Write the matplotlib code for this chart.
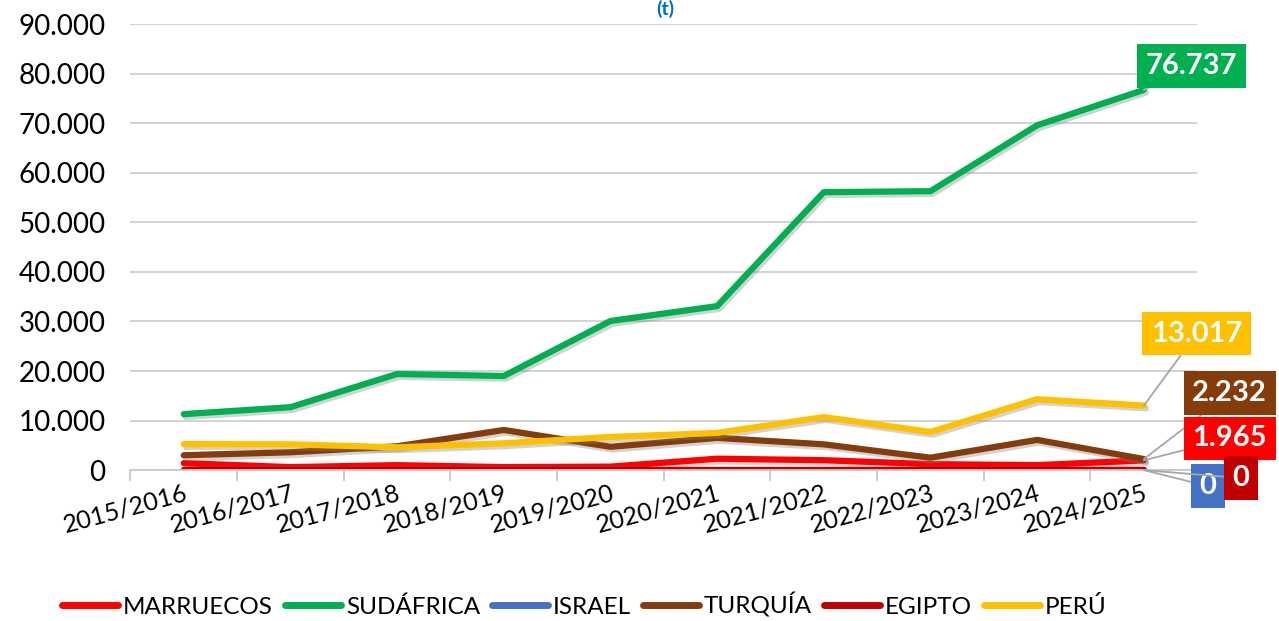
import numpy as np
import matplotlib
matplotlib.use('Agg')
import matplotlib.pyplot as plt
import matplotlib.patheffects as pe
from matplotlib.ticker import FuncFormatter, FixedLocator

plt.rcParams['font.family'] = ['Lato', 'DejaVu Sans']

campanas = ['2015/2016', '2016/2017', '2017/2018', '2018/2019', '2019/2020',
            '2020/2021', '2021/2022', '2022/2023', '2023/2024', '2024/2025']
marruecos = [1400, 600, 1000, 600, 700, 2300, 2000, 1200, 1000, 1965]
sudafrica = [11300, 12700, 19400, 19000, 30100, 33100, 56100, 56300, 69600, 76737]
israel = [0, 0, 0, 0, 0, 0, 0, 0, 0, 0]
turquia = [3000, 3600, 4800, 8100, 4700, 6500, 5200, 2500, 6100, 2232]
egipto = [0, 0, 0, 0, 0, 0, 0, 0, 0, 0]
peru = [5250, 5200, 4600, 5400, 6700, 7500, 10700, 7700, 14300, 13017]

series = [('MARRUECOS', marruecos, '#ff0000'),
          ('SUDÁFRICA', sudafrica, '#00b050'),
          ('ISRAEL', israel, '#4472c4'),
          ('TURQUÍA', turquia, '#843c0c'),
          ('EGIPTO', egipto, '#c00000'),
          ('PERÚ', peru, '#ffc000')]

fig = plt.figure(figsize=(12.79, 6.21), dpi=100)
ax = fig.add_axes([0.102, 0.243, 0.834, 0.718])

x = np.arange(len(campanas))
sombra = [pe.SimpleLineShadow(offset=(1.5, -2), shadow_color='#808080', alpha=0.35),
          pe.Normal()]
for nombre, vals, col in series:
    ax.plot(x, vals, color=col, lw=4.5, label=nombre,
            solid_capstyle='round', path_effects=sombra)

ax.set_xlim(-0.5, len(campanas) - 0.5)
ax.set_ylim(0, 90000)
ax.set_yticks(np.arange(0, 90001, 10000))
ax.yaxis.set_major_formatter(FuncFormatter(lambda v, p: f'{int(v):,}'.replace(',', '.')))
ax.tick_params(axis='y', length=0, labelsize=20, pad=18)
ax.grid(axis='y', color='#d0d0d0', lw=1.3)
ax.set_axisbelow(True)

ax.set_xticks(x)
ax.set_xticklabels(campanas, rotation=15, ha='right', rotation_mode='anchor', fontsize=18)
ax.tick_params(axis='x', length=0, pad=8)
ax.xaxis.set_minor_locator(FixedLocator(np.arange(-0.5, len(campanas), 1)))
ax.tick_params(axis='x', which='minor', length=8, color='#c8c8c8', width=1.3)

for s in ['top', 'right', 'left']:
    ax.spines[s].set_visible(False)
ax.spines['bottom'].set_color('#c8c8c8')
ax.spines['bottom'].set_linewidth(1.3)

# etiquetas del último valor
etiquetas = [(sudafrica, '#00b050', (48, 24)),
             (peru, '#ffc000', (53, 72)),
             (turquia, '#843c0c', (86, 66)),
             (marruecos, '#ff0000', (86, 22)),
             (israel, '#4472c4', (64, -16)),
             (egipto, '#c00000', (97, -8))]
for vals, col, off in etiquetas:
    v = vals[-1]
    txt = f'{int(v):,}'.replace(',', '.')
    ax.annotate(txt, xy=(x[-1], v), xytext=off, textcoords='offset pixels',
                ha='center', va='center', fontsize=21, fontweight='bold', color='white',
                bbox=dict(boxstyle='square,pad=0.3', fc=col, ec='none'),
                arrowprops=dict(arrowstyle='-', color='#a6a6a6', lw=1.3,
                                shrinkA=0, shrinkB=0),
                annotation_clip=False, zorder=5)

fig.text(0.52, 1.0, '(t)', color='#0070c0', fontsize=14, fontweight='bold',
         ha='center', va='top')

leg = fig.legend(loc='lower center', bbox_to_anchor=(0.457, -0.03), ncol=6,
                 frameon=False, fontsize=17.5, handlelength=2.3, handletextpad=0.2,
                 columnspacing=0.5)
for h in leg.get_lines():
    h.set_linewidth(5)
    h.set_path_effects([])

fig.savefig('out.png', dpi=100)
